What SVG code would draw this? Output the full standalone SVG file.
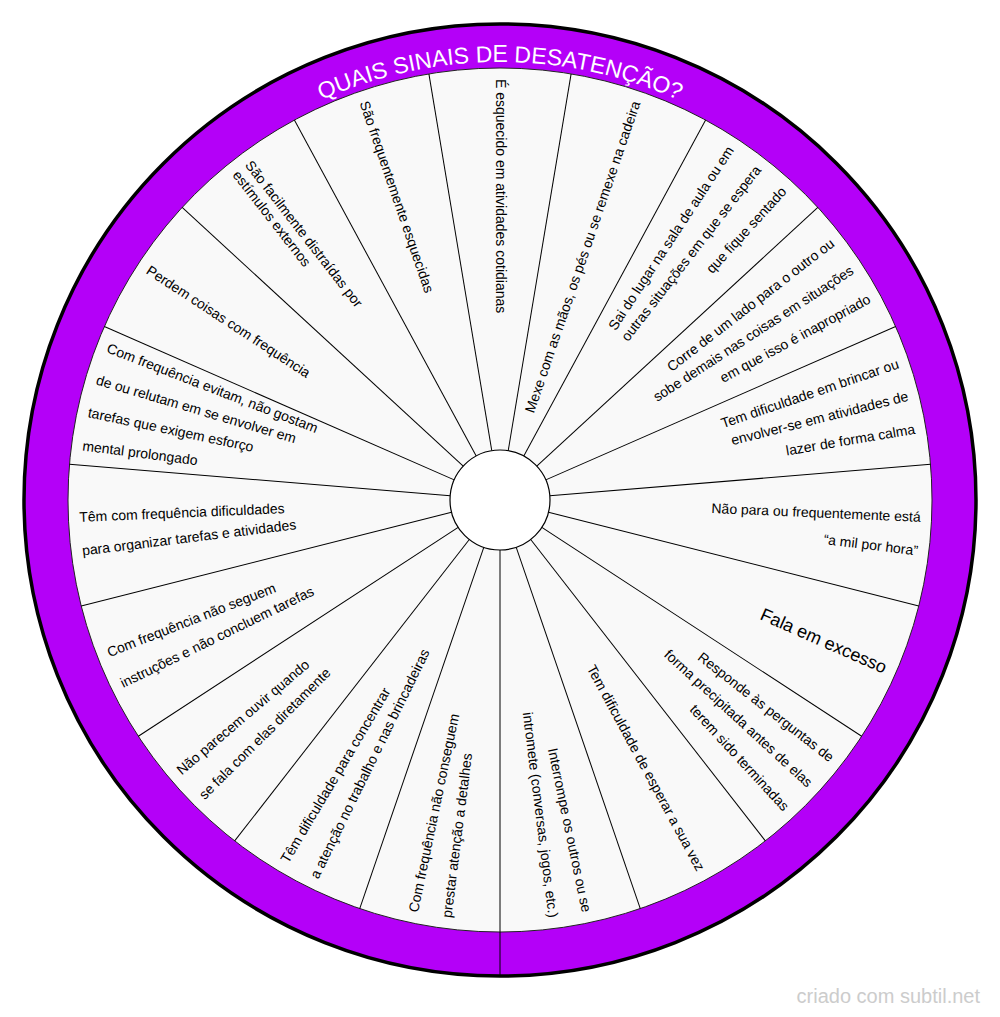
<svg xmlns="http://www.w3.org/2000/svg" width="1000" height="1017" viewBox="0 0 1000 1017">
<style>
.t{font-family:"Liberation Sans",Arial,sans-serif;font-size:14px;fill:#000}
.r{text-anchor:end}
.l{text-anchor:start}
#connectors line{stroke:#000;stroke-width:1}
.title{font-family:"Liberation Sans",Arial,sans-serif;font-size:23px;fill:#fff}
.wm{font-family:"Liberation Sans",Arial,sans-serif;font-size:20px;fill:#cccccc;text-anchor:end}
</style>
<defs>
<path id="arc" d="M62,500 A438,438 0 0 1 938,500"/>
</defs>
<rect width="1000" height="1017" fill="#fff"/>
<g id="wheel">
<circle cx="500" cy="500" r="476" fill="#b400f8" stroke="#000" stroke-width="3.5"/>
<circle cx="500" cy="500" r="432" fill="#f9f9f9" stroke="#222" stroke-width="1"/>
<text class="title"><textPath href="#arc" startOffset="50%" text-anchor="middle">QUAIS SINAIS DE DESATENÇÃO?</textPath></text>
</g>
<g id="connectors">
<line x1="500" y1="450" x2="500" y2="68" transform="rotate(9.4737 500 500)"/>
<line x1="500" y1="450" x2="500" y2="68" transform="rotate(28.4211 500 500)"/>
<line x1="500" y1="450" x2="500" y2="68" transform="rotate(47.3684 500 500)"/>
<line x1="500" y1="450" x2="500" y2="68" transform="rotate(66.3158 500 500)"/>
<line x1="500" y1="450" x2="500" y2="68" transform="rotate(85.2632 500 500)"/>
<line x1="500" y1="450" x2="500" y2="68" transform="rotate(104.2105 500 500)"/>
<line x1="500" y1="450" x2="500" y2="68" transform="rotate(123.1579 500 500)"/>
<line x1="500" y1="450" x2="500" y2="68" transform="rotate(142.1053 500 500)"/>
<line x1="500" y1="450" x2="500" y2="68" transform="rotate(161.0526 500 500)"/>
<line x1="500" y1="550" x2="500" y2="977"/>
<line x1="500" y1="450" x2="500" y2="68" transform="rotate(198.9474 500 500)"/>
<line x1="500" y1="450" x2="500" y2="68" transform="rotate(217.8947 500 500)"/>
<line x1="500" y1="450" x2="500" y2="68" transform="rotate(236.8421 500 500)"/>
<line x1="500" y1="450" x2="500" y2="68" transform="rotate(255.7895 500 500)"/>
<line x1="500" y1="450" x2="500" y2="68" transform="rotate(274.7368 500 500)"/>
<line x1="500" y1="450" x2="500" y2="68" transform="rotate(293.6842 500 500)"/>
<line x1="500" y1="450" x2="500" y2="68" transform="rotate(312.6316 500 500)"/>
<line x1="500" y1="450" x2="500" y2="68" transform="rotate(331.5789 500 500)"/>
<line x1="500" y1="450" x2="500" y2="68" transform="rotate(350.5263 500 500)"/>
</g>
<g id="hub"><circle cx="500" cy="500" r="50" fill="#fff" stroke="#000" stroke-width="1.2"/></g>
<g id="s1"><text class="t l" x="79" y="504" transform="rotate(90 500 500)">É esquecido em atividades cotidianas</text></g>
<g id="s2"><text class="t r" x="921" y="504" transform="rotate(-71.053 500 500)">Mexe com as mãos, os pés ou se remexe na cadeira</text></g>
<g id="s3">
<text class="t r" x="921" y="504" transform="rotate(-56.705 500 500)">Sai do lugar na sala de aula ou em</text>
<text class="t r" x="921" y="504" transform="rotate(-52.105 500 500)">outras situações em que se espera</text>
<text class="t r" x="921" y="504" transform="rotate(-47.505 500 500)">que fique sentado</text>
</g>
<g id="s4">
<text class="t r" x="921" y="504" transform="rotate(-37.758 500 500)">Corre de um lado para o outro ou</text>
<text class="t r" x="921" y="504" transform="rotate(-33.158 500 500)">sobe demais nas coisas em situações</text>
<text class="t r" x="921" y="504" transform="rotate(-28.558 500 500)">em que isso é inapropriado</text>
</g>
<g id="s5">
<text class="t r" x="921" y="504" transform="rotate(-18.811 500 500)">Tem dificuldade em brincar ou</text>
<text class="t r" x="921" y="504" transform="rotate(-14.211 500 500)">envolver-se em atividades de</text>
<text class="t r" x="921" y="504" transform="rotate(-9.611 500 500)">lazer de forma calma</text>
</g>
<g id="s6">
<text class="t r" x="921" y="504" transform="rotate(2.437 500 500)">Não para ou frequentemente está</text>
<text class="t r" x="921" y="504" transform="rotate(7.037 500 500)">“a mil por hora”</text>
</g>
<g id="s7"><text class="t r" x="921" y="505" style="font-size:18px" transform="rotate(23.684 500 500)">Fala em excesso</text></g>
<g id="s8">
<text class="t r" x="921" y="504" transform="rotate(38.032 500 500)">Responde às perguntas de</text>
<text class="t r" x="921" y="504" transform="rotate(42.632 500 500)">forma precipitada antes de elas</text>
<text class="t r" x="921" y="504" transform="rotate(47.232 500 500)">terem sido terminadas</text>
</g>
<g id="s9"><text class="t r" x="921" y="504" transform="rotate(61.579 500 500)">Tem dificuldade de esperar a sua vez</text></g>
<g id="s10">
<text class="t r" x="921" y="504" transform="rotate(78.226 500 500)">Interrompe os outros ou se</text>
<text class="t r" x="921" y="504" transform="rotate(82.826 500 500)">intromete (conversas, jogos, etc.)</text>
</g>
<g id="s11">
<text class="t l" x="79" y="504" transform="rotate(-78.226 500 500)">Com frequência não conseguem</text>
<text class="t l" x="79" y="504" transform="rotate(-82.826 500 500)">prestar atenção a detalhes</text>
</g>
<g id="s12">
<text class="t l" x="79" y="504" transform="rotate(-59.279 500 500)">Têm dificuldade para concentrar</text>
<text class="t l" x="79" y="504" transform="rotate(-63.879 500 500)">a atenção no trabalho e nas brincadeiras</text>
</g>
<g id="s13">
<text class="t l" x="79" y="504" transform="rotate(-40.332 500 500)">Não parecem ouvir quando</text>
<text class="t l" x="79" y="504" transform="rotate(-44.932 500 500)">se fala com elas diretamente</text>
</g>
<g id="s14">
<text class="t l" x="79" y="504" transform="rotate(-21.384 500 500)">Com frequência não seguem</text>
<text class="t l" x="79" y="504" transform="rotate(-25.984 500 500)">instruções e não concluem tarefas</text>
</g>
<g id="s15">
<text class="t l" x="79" y="504" transform="rotate(-2.437 500 500)">Têm com frequência dificuldades</text>
<text class="t l" x="79" y="504" transform="rotate(-7.037 500 500)">para organizar tarefas e atividades</text>
</g>
<g id="s16">
<text class="t l" x="79" y="504" transform="rotate(21.111 500 500)">Com frequência evitam, não gostam</text>
<text class="t l" x="79" y="504" transform="rotate(16.511 500 500)">de ou relutam em se envolver em</text>
<text class="t l" x="79" y="504" transform="rotate(11.911 500 500)">tarefas que exigem esforço</text>
<text class="t l" x="79" y="504" transform="rotate(7.311 500 500)">mental prolongado</text>
</g>
<g id="s17"><text class="t l" x="79" y="504" transform="rotate(33.158 500 500)">Perdem coisas com frequência</text></g>
<g id="s18">
<text class="t l" x="79" y="496" transform="rotate(52.105 500 500)">São facilmente distraídas por</text>
<text class="t l" x="79" y="512" transform="rotate(52.105 500 500)">estímulos externos</text>
</g>
<g id="s19"><text class="t l" x="79" y="504" transform="rotate(71.053 500 500)">São frequentemente esquecidas</text></g>
<text class="wm" x="980" y="1003">criado com subtil.net</text>
</svg>
